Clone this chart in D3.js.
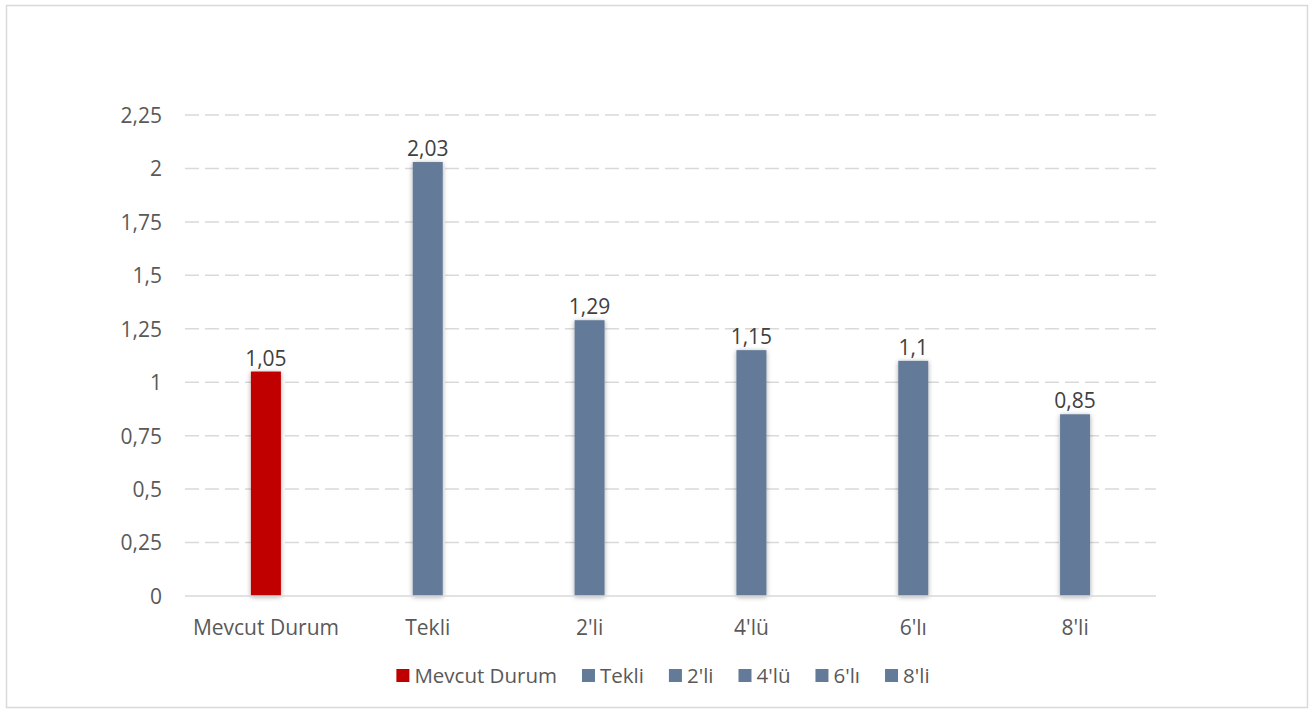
<!DOCTYPE html>
<html><head><meta charset="utf-8">
<script src="https://cdn.jsdelivr.net/npm/d3@7"></script>
<style>body{margin:0;background:#fff}svg{display:block}text{font-family:"Open Sans",sans-serif}</style>
</head><body><svg id="c" width="1316" height="713"></svg>
<script>
const categories = ["Mevcut Durum","Tekli","2'li","4'lü","6'lı","8'li"];
const values = [1.05, 2.03, 1.29, 1.15, 1.1, 0.85];
const valueLabels = ["1,05","2,03","1,29","1,15","1,1","0,85"];
const tickValues = [0,0.25,0.5,0.75,1,1.25,1.5,1.75,2,2.25];
const tickLabels = ["0","0,25","0,5","0,75","1","1,25","1,5","1,75","2","2,25"];
const colors = ["#C00000","#637A99","#637A99","#637A99","#637A99","#637A99"];

const svg = d3.select("#c");
const defs = svg.append("defs");
const f = defs.append("filter").attr("id","sh").attr("x","-50%").attr("y","-20%").attr("width","200%").attr("height","140%");
f.append("feDropShadow").attr("dx",0).attr("dy",1).attr("stdDeviation",2.5).attr("flood-color","#000").attr("flood-opacity",0.35);

svg.append("rect").attr("x",6.5).attr("y",5.5).attr("width",1301).attr("height",702).attr("fill","#fff").attr("stroke","#d9d9d9").attr("stroke-width",1.5);

const x = d3.scaleBand().domain(categories).range([185,1156]);
const y = d3.scaleLinear().domain([0,2.25]).range([596,115]);

svg.append("g").selectAll("line").data(tickValues.filter(d=>d>0)).join("line")
  .attr("x1",185).attr("x2",1156).attr("y1",d=>y(d)).attr("y2",d=>y(d))
  .attr("stroke","#d9d9d9").attr("stroke-width",1.5).attr("stroke-dasharray","14,6");

const ya = svg.append("g").attr("transform","translate(162,0)")
  .call(d3.axisLeft(y).tickValues(tickValues).tickFormat((d,i)=>tickLabels[i]).tickSize(0).tickPadding(0));
ya.select(".domain").remove();
ya.selectAll("text").attr("font-size",21).attr("fill","#595959").attr("font-family","Open Sans").attr("dy","0.35em");

const bw = 30;
svg.append("g").selectAll("rect").data(values).join("rect")
  .attr("x",(d,i)=>x(categories[i])+x.bandwidth()/2-bw/2)
  .attr("width",bw)
  .attr("y",d=>y(d)).attr("height",d=>y(0)-y(d))
  .attr("fill",(d,i)=>colors[i]).attr("filter","url(#sh)");

svg.append("line").attr("x1",185).attr("x2",1156).attr("y1",y(0)).attr("y2",y(0)).attr("stroke","#d9d9d9").attr("stroke-width",1.5);

const xa = svg.append("g").attr("transform",`translate(0,${y(0)})`)
  .call(d3.axisBottom(x).tickSize(0).tickPadding(0));
xa.select(".domain").remove();
xa.selectAll("text").attr("font-size",21).attr("fill","#595959").attr("font-family","Open Sans").attr("dy",null).attr("y",39);

svg.append("g").selectAll("text").data(values).join("text")
  .attr("x",(d,i)=>x(categories[i])+x.bandwidth()/2)
  .attr("y",d=>y(d)-6)
  .attr("text-anchor","middle").attr("font-size",21).attr("fill","#404040")
  .text((d,i)=>valueLabels[i]);

const lg = svg.append("g");
const items = lg.selectAll("g").data(categories).join("g");
items.append("rect").attr("width",13).attr("height",13).attr("y",-14).attr("fill",(d,i)=>colors[i]);
items.append("text").attr("x",18).attr("font-size",20.5).attr("fill","#595959").text(d=>d);
const widths=[];
items.each(function(){ widths.push(18 + this.querySelector("text").getComputedTextLength()); });
const gap = 25;
const total = d3.sum(widths)+gap*(widths.length-1);
let start = 663 - total/2;
items.attr("transform",(d,i)=>{ const t=`translate(${start},683)`; start += widths[i]+gap; return t; });
</script></body></html>
